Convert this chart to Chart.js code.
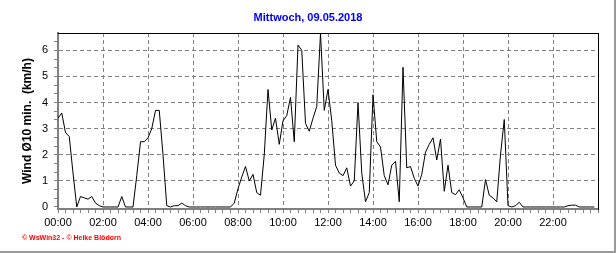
<!DOCTYPE html>
<html>
<head>
<meta charset="utf-8">
<script src="https://cdn.jsdelivr.net/npm/chart.js@4.4.1/dist/chart.umd.min.js"></script>
<style>
  body { margin: 0; background: #fff; }
  canvas { display: block; }
</style>
</head>
<body>
<canvas id="wind" width="616" height="253"></canvas>
<script>
// Wind Ø10 min — Tagesgrafik 09.05.2018, 10-Minuten-Werte in km/h

const TITLE   = 'Mittwoch, 09.05.2018';
const Y_TITLE = 'Wind Ø10 min.  (km/h)';
const CREDIT  = '© WsWin32 - © Heike Blödorn';

const X_LABELS = ['00:00','02:00','04:00','06:00','08:00','10:00',
                  '12:00','14:00','16:00','18:00','20:00','22:00'];
const Y_LABELS = [0, 1, 2, 3, 4, 5, 6];

// 144 Werte, 00:00 .. 23:50
const WIND = [
  3.4, 3.6, 2.85, 2.7, 1.3, 0, 0.4, 0.35, 0.3, 0.4, 0.15, 0.05,
  0, 0, 0, 0, 0, 0.4, 0, 0, 0, 1.2, 2.5, 2.5,
  2.65, 3.0, 3.7, 3.7, 2.0, 0.05, 0, 0.05, 0.05, 0.15, 0.05, 0,
  0, 0, 0, 0, 0, 0, 0, 0, 0, 0, 0, 0.15,
  0.7, 1.15, 1.55, 1.0, 1.25, 0.55, 0.45, 2.0, 4.5, 2.95, 3.4, 2.4,
  3.3, 3.5, 4.2, 2.5, 6.2, 6.0, 3.2, 2.9, 3.4, 3.85, 6.65, 3.7,
  4.5, 3.3, 1.6, 1.3, 1.2, 1.5, 0.8, 1.0, 4.0, 1.3, 0.2, 0.55,
  4.3, 2.5, 2.3, 1.2, 0.85, 1.6, 1.75, 0.2, 5.35, 1.5, 1.55, 1.1,
  0.8, 1.25, 2.1, 2.4, 2.65, 1.8, 2.6, 0.6, 1.6, 0.55, 0.47, 0.66,
  0.35, 0, 0, 0, 0, 0, 1.05, 0.45, 0.35, 0.2, 2.0, 3.35,
  0.05, 0, 0.05, 0.18, 0, 0, 0, 0, 0, 0, 0, 0,
  0, 0, 0, 0, 0.05, 0.07, 0.07, 0, 0, 0, 0, 0
];

const Y_MIN = -0.077;
const Y_MAX = 6.663;

const FONT  = '"Liberation Sans", Arial, sans-serif';
const GRAY  = '#808080';

// Teilstriche: alle 20 min bzw. alle 1/3 km/h
const X_TICKS = [];
for (let k = 0; k <= 72; k++) X_TICKS.push(k / 3);
const Y_TICKS = [];
for (let k = 0; k <= 19; k++) Y_TICKS.push(k / 3);

const isMult = (v, m) => Math.abs(v / m - Math.round(v / m)) < 1e-6;

const extras = {
  id: 'extras',
  afterDraw(chart) {
    const c = chart.ctx;
    const w = chart.width, h = chart.height;
    c.save();
    c.fillStyle = '#9a9a9a';
    c.fillRect(w - 2, 0, 2, h);
    c.fillRect(0, h - 2, w, 2);
    c.fillStyle = '#ff0000';
    c.font = 'bold 7px ' + FONT;
    c.textBaseline = 'middle';
    c.fillText(CREDIT, 22, 238);
    c.restore();
  }
};

new Chart(document.getElementById('wind'), {
  type: 'line',
  data: {
    datasets: [{
      data: WIND.map((v, i) => ({ x: i / 6, y: v })),
      xAxisID: 'x',
      yAxisID: 'y',
      borderColor: '#000',
      borderWidth: 1,
      pointRadius: 0,
      tension: 0,
      fill: false
    }]
  },
  options: {
    responsive: false,
    animation: false,
    devicePixelRatio: 1,
    layout: { padding: 0 },
    plugins: {
      legend: { display: false },
      tooltip: { enabled: false },
      title: {
        display: true,
        text: TITLE,
        color: '#0000ff',
        font: { family: FONT, size: 11, weight: 'bold' },
        padding: { top: 11.4, bottom: 8.4 }
      }
    },
    scales: {
      x: {
        type: 'linear',
        position: 'bottom',
        min: 0,
        max: 24,
        afterBuildTicks: s => { s.ticks = X_TICKS.map(v => ({ value: v })); },
        afterFit: s => { s.height = 44; },
        border: { color: GRAY, width: 2, dash: [4, 3] },
        grid: {
          color: ctx => (ctx.tick && ctx.tick.value > 0 && ctx.tick.value < 24 && isMult(ctx.tick.value, 2)) ? GRAY : 'transparent',
          tickColor: GRAY,
          tickLength: 4,
          lineWidth: 1
        },
        ticks: {
          autoSkip: false,
          maxRotation: 0,
          padding: 3,
          color: '#000',
          font: { family: FONT, size: 11 },
          callback: v => isMult(v, 2) ? (X_LABELS[Math.round(v / 2)] || '') : ''
        }
      },
      y: {
        type: 'linear',
        position: 'left',
        min: Y_MIN,
        max: Y_MAX,
        afterBuildTicks: s => { s.ticks = Y_TICKS.map(v => ({ value: v })); },
        afterFit: s => { s.width = 58; },
        border: { color: GRAY, width: 2, dash: [4, 3] },
        grid: {
          color: ctx => (ctx.tick && ctx.tick.value > 0 && isMult(ctx.tick.value, 1)) ? GRAY : 'transparent',
          tickColor: GRAY,
          tickLength: 4,
          lineWidth: 1
        },
        ticks: {
          autoSkip: false,
          padding: 6,
          color: '#000',
          font: { family: FONT, size: 11 },
          callback: v => isMult(v, 1) && Y_LABELS.includes(Math.round(v)) ? String(Math.round(v)) : ''
        },
        title: {
          display: true,
          text: Y_TITLE,
          color: '#000',
          font: { family: FONT, size: 12, weight: 'bold' },
          padding: { top: 20, bottom: 0 }
        }
      },
      x2: {
        type: 'linear',
        position: 'top',
        min: 0,
        max: 24,
        afterFit: s => { s.height = 0; },
        grid: { display: false },
        ticks: { display: false },
        border: { color: '#000', width: 1 }
      },
      y2: {
        type: 'linear',
        position: 'right',
        afterFit: s => { s.width = 18; },
        grid: { display: false },
        ticks: { display: false },
        border: { color: '#000', width: 1 }
      }
    }
  },
  plugins: [extras]
});
</script>
</body>
</html>
